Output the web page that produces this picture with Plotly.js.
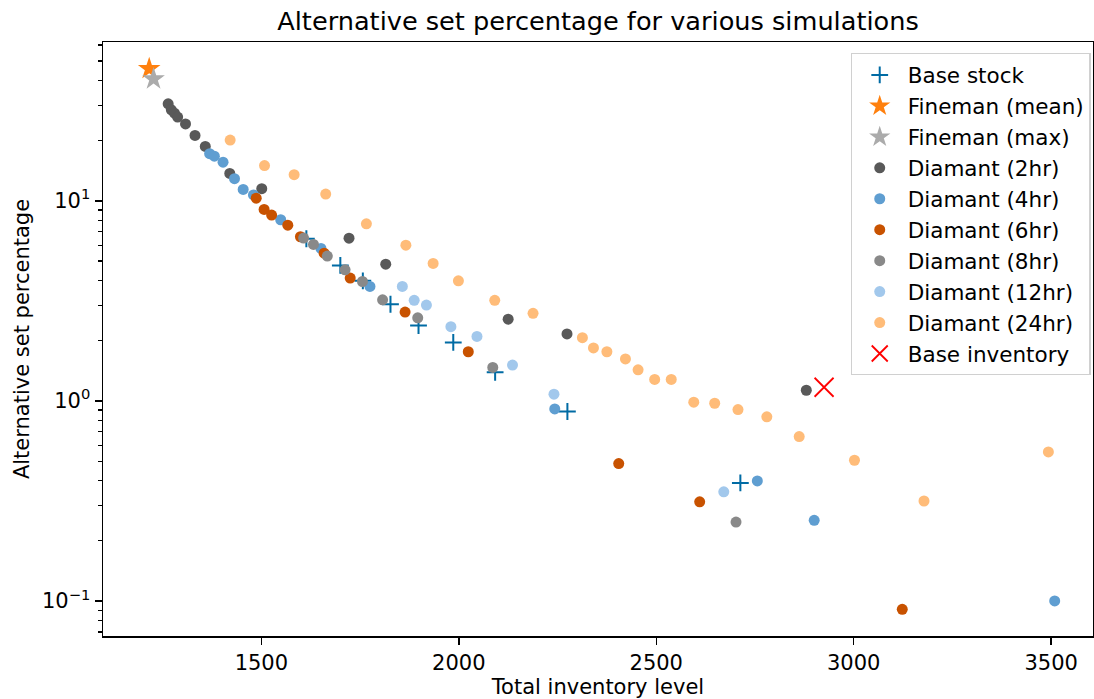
<!DOCTYPE html>
<html>
<head>
<meta charset="utf-8">
<script src="https://cdn.plot.ly/plotly-3.0.1.min.js"></script>
<style>html,body{margin:0;padding:0;background:#fff;}#chart{width:1094px;height:699px;}</style>
</head>
<body>
<div id="chart"></div>
<script>
// ---- data ----
const baseStockX = [1614, 1700, 1757, 1827, 1898, 1986, 2092, 2275, 2713];
const baseStockY = [6.46, 4.75, 3.98, 3.04, 2.38, 1.96, 1.39, 0.885, 0.389];

const finemanMeanX = [1216];
const finemanMeanY = [45.7];
const finemanMaxX = [1227];
const finemanMaxY = [40.6];

const d2X = [1264, 1272, 1280, 1288, 1308, 1332, 1358, 1420, 1501, 1722, 1815, 2125, 2274, 2880];
const d2Y = [30.5, 28.5, 27.4, 26.2, 24.2, 21.2, 18.7, 13.7, 11.5, 6.5, 4.82, 2.56, 2.16, 1.13];

const d4X = [1369, 1381, 1403, 1432, 1454, 1480, 1549, 1651, 1775, 2243, 2756, 2900, 3509];
const d4Y = [17.2, 16.7, 15.6, 12.9, 11.4, 10.7, 8.04, 5.78, 3.73, 0.912, 0.398, 0.253, 0.1];

const d6X = [1487, 1507, 1526, 1567, 1599, 1659, 1725, 1864, 2024, 2405, 2610, 3123];
const d6Y = [10.3, 9.05, 8.48, 7.55, 6.61, 5.47, 4.11, 2.78, 1.76, 0.486, 0.313, 0.0909];

const d8X = [1607, 1632, 1667, 1712, 1756, 1807, 1896, 2086, 2702];
const d8Y = [6.51, 6.05, 5.29, 4.52, 3.95, 3.2, 2.6, 1.47, 0.248];

const d12X = [1857, 1887, 1918, 1980, 2046, 2136, 2241, 2671];
const d12Y = [3.73, 3.18, 3.01, 2.35, 2.10, 1.51, 1.08, 0.351];

const d24X = [1421, 1508, 1583, 1663, 1766, 1866, 1935, 1999, 2091, 2188, 2313, 2341, 2375, 2422, 2454, 2496, 2538, 2595, 2648, 2707, 2780, 2862, 3002, 3178, 3493];
const d24Y = [20.1, 15.0, 13.5, 10.8, 7.67, 6.0, 4.86, 3.98, 3.18, 2.74, 2.07, 1.84, 1.76, 1.62, 1.43, 1.28, 1.28, 0.985, 0.973, 0.905, 0.832, 0.663, 0.505, 0.316, 0.556];

const baseInvX = [2925];
const baseInvY = [1.17];

const xTickVals = [1500, 2000, 2500, 3000, 3500];
const yTickVals = [0.1, 1, 10];
const yTickText = ['10<sup>\u22121</sup>', '10<sup>0</sup>', '10<sup>1</sup>'];
const yMinorVals = [0.07, 0.08, 0.09, 0.2, 0.3, 0.4, 0.5, 0.6, 0.7, 0.8, 0.9, 2, 3, 4, 5, 6, 7, 8, 9, 20, 30, 40, 50, 60];

// ---- traces ----
function dots(name, x, y, color) {
  return {type: 'scatter', mode: 'markers', name: name, x: x, y: y,
    marker: {symbol: 'circle', size: 11, color: color, line: {width: 0}}};
}

const traces = [
  {type: 'scatter', mode: 'markers', name: 'Base stock', x: baseStockX, y: baseStockY,
   marker: {symbol: 'cross-thin-open', size: 12, color: '#006BA4', line: {width: 2, color: '#006BA4'}}},
  {type: 'scatter', mode: 'markers', name: 'Fineman (mean)', x: finemanMeanX, y: finemanMeanY,
   marker: {symbol: 'star', size: 17, color: '#FF800E', line: {width: 0}}},
  {type: 'scatter', mode: 'markers', name: 'Fineman (max)', x: finemanMaxX, y: finemanMaxY,
   marker: {symbol: 'star', size: 17, color: '#ABABAB', line: {width: 0}}},
  dots('Diamant (2hr)', d2X, d2Y, '#595959'),
  dots('Diamant (4hr)', d4X, d4Y, '#5F9ED1'),
  dots('Diamant (6hr)', d6X, d6Y, '#C85200'),
  dots('Diamant (8hr)', d8X, d8Y, '#898989'),
  dots('Diamant (12hr)', d12X, d12Y, '#A2C8EC'),
  dots('Diamant (24hr)', d24X, d24Y, '#FFBC79'),
  {type: 'scatter', mode: 'markers', name: 'Base inventory', x: baseInvX, y: baseInvY,
   marker: {symbol: 'x-thin-open', size: 19, color: 'red', line: {width: 1.8, color: 'red'}}}
];

const font = {family: 'DejaVu Sans, sans-serif', size: 21, color: '#000'};
const legendFont = {family: 'DejaVu Sans, sans-serif', size: 21.5, color: '#000'};

const layout = {
  width: 1094, height: 699,
  margin: {l: 103, r: 1, t: 42, b: 63, pad: 0},
  paper_bgcolor: '#fff', plot_bgcolor: '#fff',
  font: font,
  showlegend: true,
  title: {text: 'Alternative set percentage for various simulations',
          font: {family: 'DejaVu Sans, sans-serif', size: 25.6, color: '#000'},
          x: 0.5, xref: 'paper', xanchor: 'center', y: 0.97, yref: 'container', yanchor: 'middle'},
  xaxis: {
    type: 'linear', range: [1099, 3606], autorange: false,
    tickmode: 'array', tickvals: xTickVals,
    ticks: 'outside', ticklen: 7, tickwidth: 1.5, tickcolor: '#000',
    showline: true, linecolor: '#000', linewidth: 1.5, mirror: true,
    showgrid: false, zeroline: false,
    tickfont: font,
    title: {text: 'Total inventory level', font: font, standoff: 8}
  },
  yaxis: {
    type: 'log', range: [-1.175, 1.7935], autorange: false,
    tickmode: 'array', tickvals: yTickVals, ticktext: yTickText,
    ticks: 'outside', ticklen: 7, tickwidth: 1.5, tickcolor: '#000',
    minor: {tickmode: 'array', tickvals: yMinorVals, ticks: 'outside', ticklen: 4, tickwidth: 1.2, tickcolor: '#000', showgrid: false},
    showline: true, linecolor: '#000', linewidth: 1.5, mirror: true,
    showgrid: false, zeroline: false,
    tickfont: font,
    title: {text: 'Alternative set percentage', font: font, standoff: 6}
  },
  legend: {
    x: 0.9975, xanchor: 'right', y: 0.981, yanchor: 'top',
    bgcolor: 'rgba(255,255,255,0.8)', bordercolor: '#d0d0d0', borderwidth: 1.2,
    font: legendFont, itemwidth: 46, tracegroupgap: 0
  }
};

Plotly.newPlot('chart', traces, layout, {displayModeBar: false, staticPlot: true});
</script>
</body>
</html>
